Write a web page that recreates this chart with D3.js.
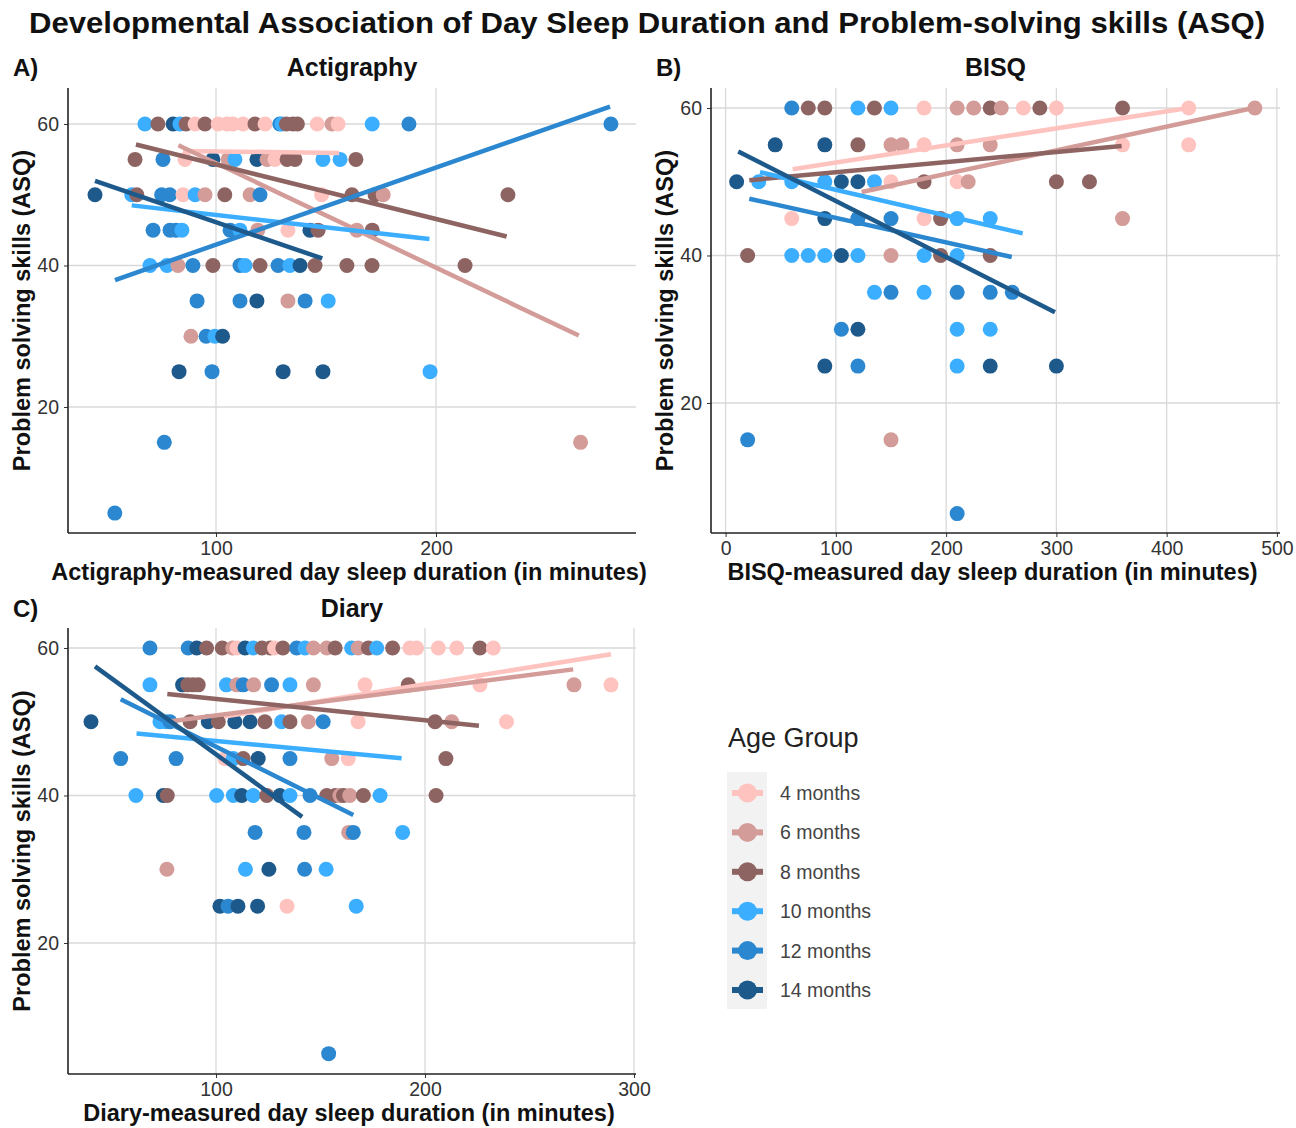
<!DOCTYPE html>
<html><head><meta charset="utf-8">
<script src="https://cdn.jsdelivr.net/npm/d3@7"></script>
<style>
body{margin:0;background:#fff}
svg{display:block}
text{font-family:"Liberation Sans",Arial,Helvetica,sans-serif}
</style>
</head><body>
<svg id="chart" width="1296" height="1128"></svg>
<script>
// ---------- DATA ----------
const ageGroups = ["4 months", "6 months", "8 months", "10 months", "12 months", "14 months"];
const groupColors = ["#FFC3BF", "#D49C98", "#8D6462", "#3BAEFF", "#2B87CF", "#1D5A8B"];
const yTickValues = [20, 40, 60];
const actiXTicks = [100, 200];
const bisqXTicks = [0, 100, 200, 300, 400, 500];
const diaryXTicks = [100, 200, 300];

// [ageIndex, minutes, ASQ]
const actiPoints = [
  [3,67.7,60],[2,73.6,60],[5,80.5,60],[3,83.6,60],[2,86.4,60],[0,90.5,60],[2,95,60],[0,101,60],[0,105,60],[0,107.7,60],[0,112.3,60],[2,117.7,60],[0,122.3,60],[4,129,60],[3,130,60],[2,132,60],[2,135,60],[2,137,60],[0,146,60],[1,152.7,60],[0,155.5,60],[3,171,60],[4,187.7,60],[4,279.5,60],
  [2,63.2,55],[4,75.9,55],[0,85.9,55],[5,98.6,55],[1,105.5,55],[3,108.6,55],[5,118.6,55],[1,123.2,55],[0,126.8,55],[2,132.3,55],[2,135.9,55],[3,148.6,55],[3,156.4,55],[2,163.6,55],
  [5,45,50],[3,61.7,50],[2,64,50],[4,75.3,50],[4,79,50],[0,85,50],[3,90.5,50],[1,95,50],[2,104,50],[1,115.5,50],[4,120,50],[0,148,50],[2,161.8,50],[2,172.3,50],[1,176,50],[2,232.7,50],
  [4,71.4,45],[4,79.1,45],[4,81.8,45],[3,84.5,45],[4,106.4,45],[3,110.9,45],[1,119,45],[0,132.7,45],[5,142.7,45],[2,146.4,45],[1,164,45],[2,171,45],
  [3,70,40],[3,77.7,40],[1,82.7,40],[4,89.5,40],[2,98.6,40],[4,110.9,40],[3,113.2,40],[2,120,40],[4,128.2,40],[3,133.6,40],[5,138.2,40],[2,145,40],[2,159.5,40],[2,170.9,40],[2,213.2,40],
  [4,91.4,35],[4,110.9,35],[5,118.6,35],[1,132.7,35],[4,140.5,35],[3,151,35],
  [1,88.6,30],[4,95.5,30],[3,99.5,30],[5,103,30],
  [5,83.2,25],[4,98.2,25],[5,130.5,25],[5,148.6,25],[3,197.3,25],
  [4,76.5,15],[1,265.7,15],[4,54,5]
];
const bisqPoints = [
  [4,60,60],[2,75,60],[2,90,60],[3,120,60],[2,135,60],[3,150,60],[0,180,60],[1,210,60],[1,225,60],[2,240,60],[1,250,60],[0,270,60],[2,285,60],[0,300,60],[2,360,60],[0,420,60],[1,480,60],
  [5,45,55],[5,90,55],[2,120,55],[1,150,55],[1,160,55],[0,180,55],[1,210,55],[1,240,55],[0,360,55],[0,420,55],
  [5,10,50],[3,30,50],[3,60,50],[3,90,50],[5,105,50],[5,120,50],[3,135,50],[0,150,50],[2,180,50],[0,210,50],[1,220,50],[2,300,50],[2,330,50],
  [0,60,45],[1,120,45],[5,90,45],[4,120,45],[4,150,45],[0,180,45],[2,195,45],[3,210,45],[3,240,45],[1,360,45],
  [2,20,40],[3,60,40],[3,75,40],[3,90,40],[5,105,40],[3,120,40],[1,150,40],[3,180,40],[2,195,40],[3,210,40],[2,240,40],
  [3,135,35],[4,150,35],[3,180,35],[4,210,35],[4,240,35],[4,260,35],
  [4,105,30],[5,120,30],[3,210,30],[3,240,30],
  [5,90,25],[4,120,25],[3,210,25],[5,240,25],[5,300,25],
  [4,20,15],[1,150,15],[4,210,5]
];
const diaryPoints = [
  [4,68.4,60],[4,86.7,60],[5,90.8,60],[2,95.5,60],[2,103,60],[1,108,60],[0,110,60],[5,113.9,60],[3,117.9,60],[2,122,60],[2,126,60],[0,128,60],[2,132,60],[4,138.6,60],[3,142.6,60],[1,146.6,60],[1,153,60],[2,157,60],[3,164.9,60],[1,168,60],[2,172.9,60],[3,176.9,60],[2,184.5,60],[0,192.8,60],[0,196,60],[0,206.4,60],[0,215.2,60],[2,226.3,60],[0,232.7,60],
  [3,68.4,55],[5,84,55],[2,86.5,55],[2,89,55],[2,91.5,55],[3,105,55],[1,110,55],[4,113,55],[1,118,55],[4,126.6,55],[3,135.4,55],[1,146.6,55],[0,171.3,55],[2,192,55],[0,226.3,55],[1,271.3,55],[0,289,55],
  [5,40.2,50],[3,73.2,50],[3,76,50],[4,78,50],[2,87.6,50],[5,96.3,50],[2,101.1,50],[5,109,50],[5,116.3,50],[2,123.4,50],[3,131.4,50],[2,135.4,50],[1,144.2,50],[4,151.3,50],[0,168,50],[2,204.8,50],[1,212.8,50],[0,239,50],
  [4,54.4,45],[4,80.9,45],[0,104.3,45],[3,108.3,45],[2,113,45],[5,120.2,45],[4,135.4,45],[1,155.4,45],[0,163.3,45],[2,210,45],
  [3,61.7,40],[5,74.8,40],[2,76.7,40],[3,100.3,40],[3,108.3,40],[5,112.3,40],[3,117.8,40],[2,124.3,40],[5,130.6,40],[3,135.4,40],[4,145,40],[2,153,40],[2,157,40],[1,159.3,40],[2,161,40],[1,164,40],[2,170.5,40],[3,178.5,40],[2,205.3,40],
  [4,118.7,35],[4,142.1,35],[1,163.5,35],[4,165.7,35],[3,189.3,35],
  [1,76.5,30],[3,114.1,30],[5,125.3,30],[4,142.4,30],[3,152.7,30],
  [5,101.9,25],[4,105.8,25],[5,110.5,25],[5,119.9,25],[0,134,25],[3,167.1,25],
  [4,153.9,5]
];

// fitted linear trends: [ageIndex, xStart, yStart, xEnd, yEnd]
const actiTrends = [
  [0,85,56.2,156,55.9],[1,82.9,57.0,264.9,30.1],[2,63.6,57.1,232.1,44.1],
  [3,61.7,48.5,197,43.75],[4,54.1,37.95,279.1,62.45],[5,45,51.95,148.3,41.0]
];
const bisqTrends = [
  [0,60.8,51.7,419.6,60.0],[1,123.4,48.6,478.6,60.0],[2,21.5,50.2,359.2,54.85],
  [3,31.2,51.3,269.4,43.0],[4,21.5,47.7,259.5,39.8],[5,11.5,54.1,298.7,32.3]
];
const diaryTrends = [
  [0,104,50.7,289,59.15],[1,76.5,50.0,270.9,57.1],[2,76.7,53.76,225.8,49.46],
  [3,62,48.4,188.8,45.04],[4,54.4,53.05,165.7,37.36],[5,42.1,57.5,141.2,37.1]
];

// ---------- DRAW ----------
const svg = d3.select("#chart");
svg.append("rect").attr("width",1296).attr("height",1128).attr("fill","#fff");

svg.append("text")
  .attr("x",647).attr("y",33).attr("text-anchor","middle")
  .attr("font-size",29).attr("font-weight","bold").attr("fill","#111")
  .attr("textLength",1236).attr("lengthAdjust","spacingAndGlyphs")
  .text("Developmental Association of Day Sleep Duration and Problem-solving skills (ASQ)");

function drawPanel(p){
  const x = d3.scaleLinear().domain(p.xDomain).range([p.left,p.right]);
  const y = d3.scaleLinear().domain(p.yDomain).range([p.bottom,p.top]);
  const g = svg.append("g");

  // grid
  g.selectAll(".gy").data(yTickValues).enter().append("line")
    .attr("x1",p.left).attr("x2",p.right).attr("y1",d=>y(d)).attr("y2",d=>y(d))
    .attr("stroke","#d9d9d9").attr("stroke-width",1.3);
  g.selectAll(".gx").data(p.xTicks).enter().append("line")
    .attr("x1",d=>x(d)).attr("x2",d=>x(d)).attr("y1",p.top).attr("y2",p.bottom)
    .attr("stroke","#d9d9d9").attr("stroke-width",1.3);

  // axes via d3 axis
  const ya = g.append("g").attr("transform",`translate(${p.left},0)`)
    .call(d3.axisLeft(y).tickValues(yTickValues).tickSize(4).tickPadding(5));
  const xa = g.append("g").attr("transform",`translate(0,${p.bottom})`)
    .call(d3.axisBottom(x).tickValues(p.xTicks).tickSize(4).tickPadding(4));
  [ya,xa].forEach(a=>{
    a.select(".domain").remove();
    a.selectAll(".tick line").attr("stroke","#333");
    a.selectAll(".tick text").attr("font-size",19.5).attr("fill","#333")
      .attr("font-family","Liberation Sans, Arial, sans-serif");
  });
  g.append("line").attr("x1",p.left).attr("x2",p.left).attr("y1",p.top).attr("y2",p.bottom)
    .attr("stroke","#222").attr("stroke-width",1.6);
  g.append("line").attr("x1",p.left).attr("x2",p.right).attr("y1",p.bottom).attr("y2",p.bottom)
    .attr("stroke","#222").attr("stroke-width",1.6);

  // points
  g.selectAll(".pt").data(p.points).enter().append("circle")
    .attr("cx",d=>x(d[1])).attr("cy",d=>y(d[2])).attr("r",7.5)
    .attr("fill",d=>groupColors[d[0]]);

  // trend lines
  g.selectAll(".tr").data(p.trends).enter().append("line")
    .attr("x1",d=>x(d[1])).attr("y1",d=>y(d[2])).attr("x2",d=>x(d[3])).attr("y2",d=>y(d[4]))
    .attr("stroke",d=>groupColors[d[0]]).attr("stroke-width",4.5);

  // titles
  svg.append("text").attr("x",p.tagX).attr("y",p.titleY).attr("font-size",24)
    .attr("font-weight","bold").attr("fill","#111").text(p.tag);
  svg.append("text").attr("x",(p.left+p.right)/2).attr("y",p.titleY).attr("text-anchor","middle")
    .attr("font-size",25).attr("font-weight","bold").attr("fill","#111").text(p.title);
  svg.append("text").attr("x",(p.left+p.right)/2 - 3).attr("y",p.bottom+47).attr("text-anchor","middle")
    .attr("font-size",23.5).attr("font-weight","bold").attr("fill","#111").text(p.xTitle);
  svg.append("text").attr("transform",`translate(${p.left-38},${(p.top+p.bottom)/2}) rotate(-90)`)
    .attr("text-anchor","middle").attr("font-size",23.5).attr("font-weight","bold").attr("fill","#111")
    .text("Problem solving skills (ASQ)");
}

drawPanel({tag:"A)", title:"Actigraphy", xTitle:"Actigraphy-measured day sleep duration (in minutes)",
  left:68, right:636, top:88, bottom:533, xDomain:[32.73,290.9], yDomain:[2.19,65.09],
  xTicks:actiXTicks, points:actiPoints, trends:actiTrends, tagX:13, titleY:76});
drawPanel({tag:"B)", title:"BISQ", xTitle:"BISQ-measured day sleep duration (in minutes)",
  left:711, right:1280, top:88, bottom:533, xDomain:[-13.24,502.8], yDomain:[2.37,62.71],
  xTicks:bisqXTicks, points:bisqPoints, trends:bisqTrends, tagX:656, titleY:76});
drawPanel({tag:"C)", title:"Diary", xTitle:"Diary-measured day sleep duration (in minutes)",
  left:68, right:636, top:628, bottom:1074, xDomain:[29.19,300.96], yDomain:[2.24,62.71],
  xTicks:diaryXTicks, points:diaryPoints, trends:diaryTrends, tagX:13, titleY:617});

// legend
const lg = svg.append("g");
lg.append("text").attr("x",728).attr("y",747).attr("font-size",27).attr("fill","#222").text("Age Group");
lg.append("rect").attr("x",727).attr("y",772).attr("width",40).attr("height",237).attr("fill","#f2f2f2");
const itemY = d3.scaleLinear().domain([0,5]).range([793,990]);
const items = lg.selectAll(".it").data(ageGroups).enter().append("g")
  .attr("transform",(d,i)=>`translate(0,${itemY(i)})`);
items.append("line").attr("x1",732).attr("x2",763).attr("y1",0).attr("y2",0)
  .attr("stroke",(d,i)=>groupColors[i]).attr("stroke-width",6);
items.append("circle").attr("cx",747.5).attr("cy",0).attr("r",9.5).attr("fill",(d,i)=>groupColors[i]);
items.append("text").attr("x",780).attr("y",7).attr("font-size",19.5).attr("fill","#444").text(d=>d);
</script>
</body></html>
